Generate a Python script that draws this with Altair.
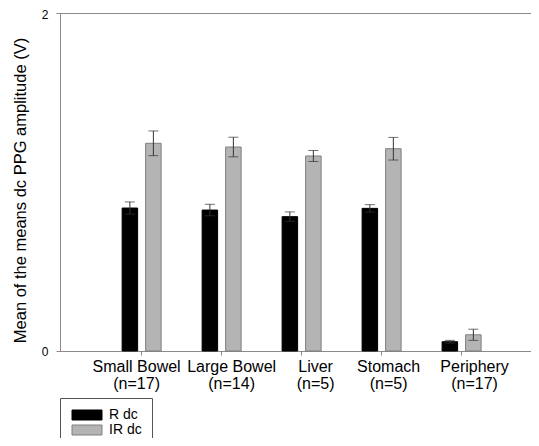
import altair as alt
import pandas as pd

organs = ["Small Bowel", "Large Bowel", "Liver", "Stomach", "Periphery"]
counts = ["(n=17)", "(n=14)", "(n=5)", "(n=5)", "(n=17)"]
series = ["R dc", "IR dc"]
r_dc = [0.846, 0.834, 0.795, 0.844, 0.055]
r_err = [0.036, 0.034, 0.028, 0.022, 0.008]
ir_dc = [1.229, 1.207, 1.154, 1.197, 0.096]
ir_err = [0.073, 0.058, 0.033, 0.067, 0.033]
y_ticks = [0, 1, 2]

# label nudges (pixels) as seen in the reference
label_nudge = [-5, 10, 14, 7, 13]

cat_order = [o + "|" + c for o, c in zip(organs, counts)]
rows = []
for i, lab in enumerate(cat_order):
    rows.append(dict(cat=lab, series="R dc", mean=r_dc[i],
                     lo=r_dc[i] - r_err[i], hi=r_dc[i] + r_err[i]))
    rows.append(dict(cat=lab, series="IR dc", mean=ir_dc[i],
                     lo=ir_dc[i] - ir_err[i], hi=ir_dc[i] + ir_err[i]))
df = pd.DataFrame(rows)

FONT = "Liberation Sans"
AXC = "#8a8a8a"

offset_cond = {
    "condition": [
        {"test": f"datum.value === '{lab}'", "value": n}
        for lab, n in zip(cat_order, label_nudge)
    ],
    "value": 0,
}
y_offset_cond = {"condition": {"test": "datum.value === 2", "value": 1.5}, "value": 0}

x = alt.X("cat:N", sort=cat_order,
          scale=alt.Scale(paddingInner=0, paddingOuter=0.444, align=0.586),
          axis=alt.Axis(title=None, labelAngle=0,
                        labelExpr="split(datum.value, '|')",
                        labelFontSize=16, labelLineHeight=17, labelPadding=3,
                        labelOffset=offset_cond,
                        tickSize=4, domainColor=AXC, tickColor=AXC,
                        labelColor="black", labelFont=FONT))
xo = alt.XOffset("series:N", sort=series,
                 scale=alt.Scale(domain=series, paddingInner=0.34, paddingOuter=0.872))
yscale = alt.Scale(domain=[0, 2])

leg = alt.Legend(orient="none", legendX=0, legendY=385,
                 title=None, strokeColor="#555555",
                 padding=10, labelFontSize=14,
                 labelFont=FONT, labelColor="black",
                 symbolType="M-1,-1H5V1H-1Z",
                 symbolSize=100, symbolStrokeWidth=1,
                 rowPadding=1, labelOffset=25)

bars = alt.Chart(df).mark_bar(strokeWidth=1).encode(
    x=x,
    xOffset=xo,
    y=alt.Y("mean:Q", scale=yscale,
            axis=alt.Axis(values=y_ticks, format="d", grid=False,
                          title="Mean of the means dc PPG amplitude (V)",
                          titleFontSize=16.5, titleFontWeight="normal",
                          titleColor="black", titleFont=FONT, titlePadding=13,
                          titleY=177,
                          labelFontSize=12, labelFont=FONT, labelColor="black",
                          labelPadding=8, tickSize=4, labelOffset=y_offset_cond,
                          domainColor=AXC, tickColor=AXC)),
    color=alt.Color("series:N", sort=series,
                    scale=alt.Scale(domain=series, range=["#000000", "#b4b4b4"]),
                    legend=leg),
    stroke=alt.Stroke("series:N", sort=series,
                      scale=alt.Scale(domain=series, range=["#000000", "#7f7f7f"]),
                      legend=leg),
)

rules = alt.Chart(df).mark_rule(color="#333333", strokeWidth=1).encode(
    x=x, xOffset=xo, y=alt.Y("lo:Q", scale=yscale), y2="hi:Q")
cap_hi = alt.Chart(df).mark_tick(color="#333333", size=10, thickness=1).encode(
    x=x, xOffset=xo, y=alt.Y("hi:Q", scale=yscale))
cap_lo = alt.Chart(df).mark_tick(color="#333333", size=10, thickness=1).encode(
    x=x, xOffset=xo, y=alt.Y("lo:Q", scale=yscale))

chart = alt.layer(bars, rules, cap_hi, cap_lo).properties(
    width=471, height=338,
    autosize=alt.AutoSizeParams(type="none"),
    padding={"left": 52, "top": 5, "right": 0, "bottom": 87},
    background="white",
).configure_view(stroke=AXC, strokeWidth=1)

chart.save("out.html", embed_options={"renderer": "svg", "actions": False})
